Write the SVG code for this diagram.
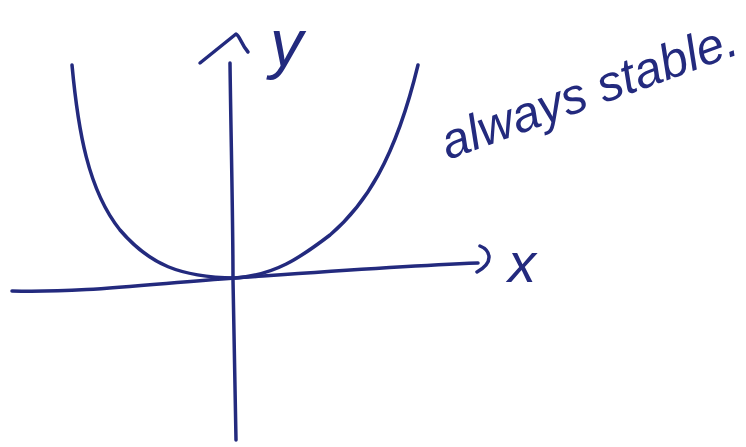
<svg xmlns="http://www.w3.org/2000/svg" width="746" height="447" viewBox="0 0 746 447">
<style>
.ink{fill:none;stroke:#232a7e;stroke-width:3.5;stroke-linecap:round;stroke-linejoin:round}
.hand{fill:#232a7e;font-family:"Liberation Sans",sans-serif;font-style:italic}
</style>
<rect width="746" height="447" fill="#fff"/>
<g id="axes">
<path class="ink" d="M230,63 C231,140 233,220 233,280 C234,340 235,390 236,440"/>
<path class="ink" d="M200,63 L236,34 C240,36 241,44 248,52"/>
<path class="ink" d="M12,291 C80,293 150,284 235,278 C320,272 400,266 478,263"/>
<path class="ink" d="M480,246 C490,250 495,262 477,272"/>
</g>
<g id="curve">
<path class="ink" d="M72,65 C78,130 88,190 120,230 C150,265 180,277 235,278 C275,275 300,258 330,235 C365,205 395,160 418,65"/>
</g>
<g id="labels">
<text class="hand" x="270" y="66" font-size="66">y</text>
<text class="hand" x="508" y="282" font-size="56">x</text>
<text class="hand" x="448" y="160" font-size="50" textLength="312" lengthAdjust="spacingAndGlyphs" transform="rotate(-20 448 160)">always stable.</text>
</g>
</svg>
